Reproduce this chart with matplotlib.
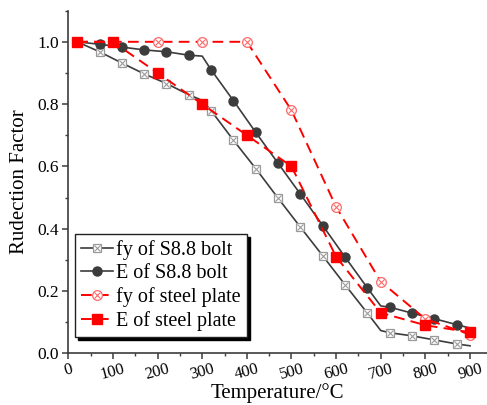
import matplotlib
matplotlib.use("Agg")
import matplotlib.pyplot as plt
from matplotlib.ticker import MultipleLocator
from matplotlib.legend_handler import HandlerTuple

plt.rcParams['font.family'] = ['Liberation Serif', 'DejaVu Serif']

# bolt curves: values every 50 degC plus the break points at 300 and 700
bolt_temp = [20, 70, 120, 170, 220, 270, 300, 320, 370, 420, 470, 520,
             570, 620, 670, 700, 720, 770, 820, 870, 900]
fy_bolt = [1.0, 0.968, 0.932, 0.897, 0.866, 0.830, 0.812, 0.779, 0.684, 0.593,
           0.498, 0.405, 0.313, 0.220, 0.129, 0.073, 0.066, 0.056, 0.043,
           0.030, 0.024]
e_bolt = [1.0, 0.992, 0.983, 0.974, 0.968, 0.957, 0.954, 0.910, 0.811, 0.709,
          0.610, 0.511, 0.410, 0.309, 0.210, 0.152, 0.148, 0.129, 0.111,
          0.092, 0.081]
bolt_breaks = [300, 700, 900]

# steel plate curves
plate_temp = [20, 100, 200, 300, 400, 500, 600, 700, 800, 900]
fy_plate = [1.0, 1.0, 1.0, 1.0, 1.0, 0.78, 0.47, 0.23, 0.11, 0.06]
e_plate = [1.0, 1.0, 0.90, 0.80, 0.70, 0.60, 0.31, 0.13, 0.09, 0.0675]

labels = ['fy of S8.8 bolt', 'E of S8.8 bolt',
          'fy of steel plate', 'E of steel plate']

marked = [i for i, t in enumerate(bolt_temp) if t not in bolt_breaks]

fig = plt.figure(figsize=(4.87, 4.05), dpi=100)
ax = fig.add_axes([0.1402, 0.1277, 0.8598, 0.846])

dark = '#3c3c3c'
light_gray = '#9a9a9a'
pink = '#ff6a6a'
dash = (0, (5.5, 3.2))

# open markers get a small cross drawn on top of them
l1, = ax.plot(bolt_temp, fy_bolt, color=dark, lw=1.2, marker='s', ms=6,
              mec=light_gray, mfc='white', mew=0.9, markevery=marked)
x1, = ax.plot(bolt_temp, fy_bolt, ls='none', marker='x', ms=4.2,
              mec=light_gray, mew=0.8, markevery=marked)
l2, = ax.plot(bolt_temp, e_bolt, color=dark, lw=1.2, marker='o', ms=6.5,
              mec=dark, mfc=dark, markevery=marked)
l3, = ax.plot(plate_temp, fy_plate, color='#ff0000', lw=1.4, ls=dash,
              marker='o', ms=7, mec=pink, mfc='white', mew=0.9)
x3, = ax.plot(plate_temp, fy_plate, ls='none', marker='x', ms=4.2,
              mec=pink, mew=0.8)
l4, = ax.plot(plate_temp, e_plate, color='#ff0000', lw=1.4, ls=dash,
              marker='s', ms=6.5, mec='#ff0000', mfc='#ff0000')

ax.set_xlim(0, 938)
ax.set_ylim(0, 1.1)
ax.xaxis.set_major_locator(MultipleLocator(100))
ax.xaxis.set_minor_locator(MultipleLocator(50))
ax.yaxis.set_minor_locator(MultipleLocator(0.1))
ax.set_yticks([0, 0.2, 0.4, 0.6, 0.8, 1.0])
ax.set_yticklabels(['0.0', '0.2', '0.4', '0.6', '0.8', '1.0'])

for s in ['top', 'right']:
    ax.spines[s].set_visible(False)
for s in ['left', 'bottom']:
    ax.spines[s].set_color(dark)
    ax.spines[s].set_linewidth(1.2)

ax.tick_params(which='major', direction='out', length=4.5, width=1.1,
               color=dark, labelsize=12.5, pad=2)
ax.tick_params(which='minor', direction='out', length=2.5, width=1.0,
               color=dark)
ax.tick_params(axis='x', which='major', labelsize=12, pad=1)
for lab in ax.get_xticklabels():
    lab.set_rotation(15)

ax.set_xlabel('Temperature/°C', fontsize=15, labelpad=0)
ax.set_ylabel('Rudection Factor', fontsize=15, labelpad=6)

leg = ax.legend([(l1, x1), l2, (l3, x3), l4], labels,
                handler_map={tuple: HandlerTuple(ndivide=1)},
                loc='lower left', bbox_to_anchor=(0.016, 0.048),
                borderaxespad=0, fontsize=14.5, handlelength=1.6,
                handletextpad=0.15, labelspacing=0.2, borderpad=0.3,
                fancybox=False, framealpha=1, edgecolor='#222222',
                shadow={'color': 'black', 'alpha': 1})
leg.get_frame().set_linewidth(1.0)

fig.savefig('out.png', dpi=100)
